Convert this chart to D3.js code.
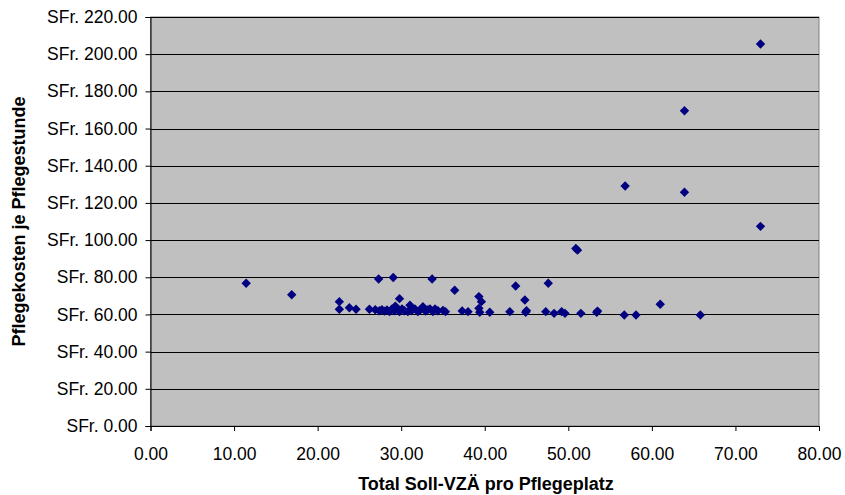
<!DOCTYPE html>
<html>
<head>
<meta charset="utf-8">
<script src="https://cdn.jsdelivr.net/npm/d3@7"></script>
<style>
  html, body { margin: 0; padding: 0; background: #ffffff; }
  svg { display: block; font-family: "Liberation Sans", Arial, sans-serif; }
</style>
</head>
<body>
<svg id="chart" width="845" height="495"></svg>
<script>
// Staffing (Soll-VZÄ per care place) vs. care cost per care hour
const staffPerPlace = [
  11.45, 16.9, 22.6, 22.6, 23.8, 24.6, 26.2, 27.3, 29.05, 29.8,
  33.7, 36.4, 39.3, 39.6, 39.3, 39.4, 40.6, 43.0, 43.7, 44.8,
  44.9, 45.0, 47.3, 47.6, 48.3, 49.2, 49.6, 50.9, 51.1, 51.5,
  53.4, 53.5, 56.7, 56.8, 58.1, 61.0, 63.9, 63.9, 65.8, 73.0,
  73.0, 37.3, 38.0,
  26.9, 27.4, 27.7, 28.0, 28.3, 28.6, 28.9, 29.2, 29.3, 29.5,
  29.8, 30.1, 30.4, 30.8, 31.05, 31.3, 31.65, 32.0, 32.3, 32.6,
  32.9, 33.2, 33.45, 33.8, 34.05, 34.4, 35.0, 35.3
];
const costPerHour = [
  76.8, 70.6, 66.9, 62.8, 63.6, 62.8, 62.8, 79.1, 79.9, 68.5,
  79.1, 73.0, 69.6, 66.9, 63.3, 61.2, 61.2, 61.5, 75.3, 67.8,
  61.2, 62.0, 61.5, 76.8, 60.6, 61.5, 60.6, 95.5, 94.6, 60.6,
  61.2, 61.8, 59.7, 129.1, 59.7, 65.5, 169.6, 125.7, 59.7, 205.5,
  107.4, 61.9, 61.5,
  62.5, 62.0, 62.5, 61.8, 62.4, 61.5, 63.0, 62.0, 64.5, 63.3,
  61.5, 63.0, 62.0, 61.5, 65.0, 62.2, 63.0, 61.5, 62.5, 64.2,
  61.8, 62.6, 63.0, 61.6, 63.0, 62.0, 62.2, 61.5
];
const xTicks = [0, 10, 20, 30, 40, 50, 60, 70, 80];
const yTicks = [0, 20, 40, 60, 80, 100, 120, 140, 160, 180, 200, 220];
const xTitle = "Total Soll-VZÄ pro Pflegeplatz";
const yTitle = "Pflegekosten je Pflegestunde";

const svg = d3.select("#chart");
const plot = { left: 150.5, right: 819, top: 17, bottom: 426 };

const x = d3.scaleLinear().domain([0, 80]).range([plot.left, plot.right]);
const y = d3.scaleLinear().domain([0, 220]).range([plot.bottom, plot.top]);

// plot area background
svg.append("rect")
  .attr("x", plot.left).attr("y", plot.top)
  .attr("width", plot.right - plot.left).attr("height", plot.bottom - plot.top)
  .attr("fill", "#c0c0c0")
  .attr("stroke", "#808080").attr("stroke-width", 1);

// horizontal gridlines
svg.append("g")
  .selectAll("line")
  .data(yTicks.filter(d => d > 0))
  .join("line")
  .attr("x1", plot.left).attr("x2", plot.right)
  .attr("y1", d => Math.round(y(d)) + 0.5).attr("y2", d => Math.round(y(d)) + 0.5)
  .attr("stroke", "#000000").attr("stroke-width", 1);

const fmtMoney = d => "SFr. " + d3.format(".2f")(d);

// y axis
const yAxis = svg.append("g")
  .attr("transform", `translate(${plot.left},0)`)
  .call(d3.axisLeft(y).tickValues(yTicks).tickFormat(fmtMoney).tickSize(5).tickPadding(8));
yAxis.select(".domain").attr("stroke", "#000000");
yAxis.selectAll(".tick line").attr("stroke", "#000000");
yAxis.selectAll("text")
  .attr("font-size", 17.5).attr("fill", "#000000")
  .attr("font-family", "Liberation Sans, Arial, sans-serif");

// x axis
const xAxis = svg.append("g")
  .attr("transform", `translate(0,${plot.bottom})`)
  .call(d3.axisBottom(x).tickValues(xTicks).tickFormat(d3.format(".2f")).tickSize(5).tickPadding(17));
xAxis.select(".domain").attr("stroke", "#000000");
xAxis.selectAll(".tick line").attr("stroke", "#000000");
xAxis.selectAll("text")
  .attr("font-size", 17.5).attr("fill", "#000000")
  .attr("font-family", "Liberation Sans, Arial, sans-serif");

// axis titles
svg.append("text")
  .attr("x", 486).attr("y", 490)
  .attr("text-anchor", "middle")
  .attr("font-size", 18).attr("font-weight", "bold")
  .text(xTitle);

svg.append("text")
  .attr("transform", `translate(25,${(plot.top + plot.bottom) / 2}) rotate(-90)`)
  .attr("text-anchor", "middle")
  .attr("font-size", 18).attr("font-weight", "bold")
  .text(yTitle);

// diamond markers
const diamond = d3.symbol().type(d3.symbolSquare).size(44);
svg.append("g")
  .selectAll("path")
  .data(d3.zip(staffPerPlace, costPerHour))
  .join("path")
  .attr("d", diamond)
  .attr("transform", d => `translate(${x(d[0])},${y(d[1])}) rotate(45)`)
  .attr("fill", "#000080");
</script>
</body>
</html>
